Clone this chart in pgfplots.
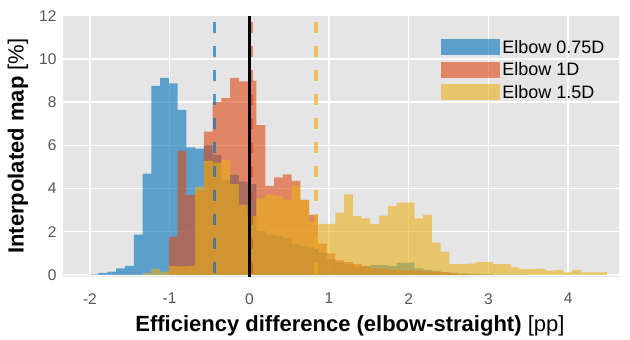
\documentclass[border=0pt]{standalone}
\usepackage{pgfplots}
\pgfplotsset{compat=1.18}
\usepackage{fontspec}
\setmainfont{Liberation Sans}
\definecolor{cblue}{HTML}{0072BD}
\definecolor{cred}{HTML}{DD4813}
\definecolor{cyel}{HTML}{EBB018}
\definecolor{bg}{HTML}{E5E5E5}
\definecolor{tickgray}{HTML}{555555}
\begin{document}
\begin{tikzpicture}
\begin{axis}[
  scale only axis, width=556bp, height=261bp,
  xmin=-2.338, xmax=4.639, ymin=-0.08, ymax=12,
  axis background/.style={fill=bg},
  axis line style={draw=none},
  major tick length=0pt,
  grid=major, grid style={white, line width=1.3bp},
  xtick={-2,-1,0,1,2,3,4}, xticklabels={-2,-1,0,1,2,3,4},
  ytick={0,2,4,6,8,10,12}, yticklabels={0,2,4,6,8,10,12},
  tick label style={font=\fontsize{15.5bp}{18bp}\selectfont, text=tickgray},
  xticklabel style={yshift=-13bp},
  yticklabel style={xshift=-3bp},
  xlabel={\textbf{Efficiency difference (elbow-straight)} [pp]},
  ylabel={\textbf{Interpolated map} [\%]},
  label style={font=\fontsize{22bp}{26bp}\selectfont},
  xlabel style={at={(axis description cs:0.516,-0.189)}, anchor=center},
  ylabel style={at={(axis description cs:-0.081,0.5)}, anchor=center},
  legend style={at={(rel axis cs:0.68,0.915)}, anchor=north west, draw=none, fill=none,
    font=\fontsize{18bp}{20bp}\selectfont, inner sep=0pt, row sep=4bp,
    nodes={inner sep=2bp}},
  legend cell align=left,
]
\addplot[ybar interval, fill=cblue, fill opacity=0.6, draw=none,
  legend image code/.code={\fill[cblue, fill opacity=0.6] (0bp,-8bp) rectangle (59bp,8bp);}]
coordinates {(-2.00,0.03)(-1.89,0.10)(-1.78,0.15)(-1.67,0.30)(-1.56,0.42)(-1.45,1.87)(-1.34,4.69)(-1.23,8.75)(-1.12,9.12)(-1.01,8.87)(-0.90,7.64)(-0.79,5.90)(-0.68,5.85)(-0.57,6.00)(-0.46,5.55)(-0.35,4.40)(-0.24,4.63)(-0.13,4.32)(-0.02,4.20)(0.09,2.04)(0.20,1.88)(0.31,1.82)(0.42,1.70)(0.53,1.42)(0.64,1.31)(0.75,1.27)(0.86,1.03)(0.97,0.73)(1.08,0.60)(1.19,0.50)(1.30,0.40)(1.41,0.40)(1.52,0.46)(1.63,0.46)(1.74,0.42)(1.85,0.57)(1.96,0.57)(2.07,0.30)(2.18,0.25)(2.29,0.20)(2.40,0.12)(2.51,0.10)(2.62,0.06)(2.73,0.05)(2.84,0.04)(2.95,0.03)(3.06,0.02)(3.17,0.02)(3.28,0.02)(3.39,0.02)(3.50,0)};
\addlegendentry{Elbow 0.75D}
\addplot[ybar interval, fill=cred, fill opacity=0.6, draw=none,
  legend image code/.code={\fill[cred, fill opacity=0.6] (0bp,-8bp) rectangle (59bp,8bp);}]
coordinates {(-1.01,1.77)(-0.90,5.74)(-0.79,3.69)(-0.68,3.90)(-0.57,6.63)(-0.46,8.00)(-0.35,8.18)(-0.24,9.12)(-0.13,8.96)(-0.02,9.00)(0.09,6.94)(0.20,4.12)(0.31,4.52)(0.42,4.66)(0.53,4.35)(0.64,3.47)(0.75,2.78)(0.86,1.45)(0.97,1.00)(1.08,0.69)(1.19,0.59)(1.30,0.50)(1.41,0.42)(1.52,0.30)(1.63,0.28)(1.74,0.25)(1.85,0.22)(1.96,0.20)(2.07,0.20)(2.18,0.17)(2.29,0.14)(2.40,0.12)(2.51,0.10)(2.62,0.05)(2.73,0.03)(2.84,0.02)(2.95,0.02)(3.06,0)};
\addlegendentry{Elbow 1D}
\addplot[ybar interval, fill=cyel, fill opacity=0.6, draw=none,
  legend image code/.code={\fill[cyel, fill opacity=0.6] (0bp,-8bp) rectangle (59bp,8bp);}]
coordinates {(-1.34,0.08)(-1.23,0.28)(-1.12,0.15)(-1.01,0.42)(-0.90,0.40)(-0.79,0.42)(-0.68,4.09)(-0.57,5.28)(-0.46,5.20)(-0.35,5.32)(-0.24,4.20)(-0.13,3.24)(-0.02,2.73)(0.09,3.55)(0.20,3.72)(0.31,3.66)(0.42,3.50)(0.53,4.13)(0.64,3.47)(0.75,2.45)(0.86,2.36)(0.97,2.36)(1.08,2.88)(1.19,3.73)(1.30,2.73)(1.41,2.62)(1.52,2.36)(1.63,2.75)(1.74,3.19)(1.85,3.35)(1.96,3.35)(2.07,2.62)(2.18,2.78)(2.29,1.50)(2.40,1.08)(2.51,0.50)(2.62,0.50)(2.73,0.52)(2.84,0.60)(2.95,0.60)(3.06,0.50)(3.17,0.50)(3.28,0.35)(3.39,0.27)(3.50,0.27)(3.61,0.28)(3.72,0.20)(3.83,0.23)(3.94,0.12)(4.05,0.23)(4.16,0.12)(4.27,0.12)(4.38,0.12)(4.49,0)};
\addlegendentry{Elbow 1.5D}
\addplot[forget plot, cblue, opacity=0.65, line width=3.2bp, dash pattern=on 11bp off 13bp, dash phase=17.4bp] coordinates {(-0.437,12) (-0.437,-0.08)};
\addplot[forget plot, cred, opacity=0.65, line width=3.2bp, dash pattern=on 11bp off 13bp, dash phase=17.4bp] coordinates {(0.02,12) (0.02,-0.08)};
\addplot[forget plot, cyel, opacity=0.65, line width=3.2bp, dash pattern=on 11bp off 13bp, dash phase=17.4bp] coordinates {(0.837,12) (0.837,-0.08)};
\addplot[forget plot, black, line width=2.6bp] coordinates {(0,12) (0,-0.08)};
\end{axis}
\pgfresetboundingbox
\path[use as bounding box] ([shift={(-63bp,-63.3bp)}]current axis.south west) rectangle ++(630bp,340bp);
\end{tikzpicture}
\end{document}
